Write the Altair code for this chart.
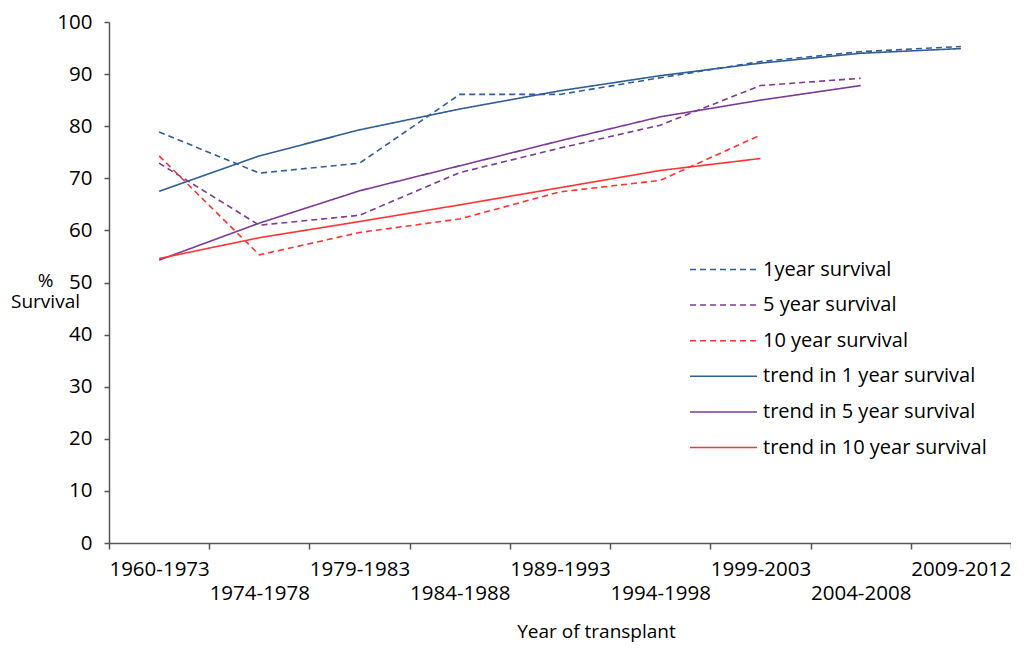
import json
import altair as alt
import pandas as pd

cats = ["1960-1973", "1974-1978", "1979-1983", "1984-1988", "1989-1993",
        "1994-1998", "1999-2003", "2004-2008", "2009-2012"]

one_year = [78.9, 71.0, 72.9, 86.1, 86.1, 89.3, 92.4, 94.3, 95.3]
five_year = [72.9, 61.0, 62.9, 71.1, 75.8, 80.2, 87.8, 89.2, None]
ten_year = [74.3, 55.3, 59.6, 62.2, 67.4, 69.6, 78.3, None, None]
trend_one = [67.5, 74.3, 79.3, 83.3, 86.8, 89.7, 92.1, 94.0, 94.9]
trend_five = [54.3, 61.4, 67.6, 72.4, 77.2, 81.8, 85.0, 87.8, None]
trend_ten = [54.6, 58.6, 61.7, 64.9, 68.2, 71.5, 73.8, None, None]

series_names = ["1year survival", "5 year survival", "10 year survival",
                "trend in 1 year survival", "trend in 5 year survival",
                "trend in 10 year survival"]
series_values = [one_year, five_year, ten_year, trend_one, trend_five, trend_ten]
series_colors = ["#2f5d98", "#7b3a98", "#ff3333", "#2f5d98", "#7b3a98", "#ff3333"]
series_dashes = [[6, 4], [6, 4], [6, 4], [1, 0], [1, 0], [1, 0]]

rows = []
for name, vals in zip(series_names, series_values):
    for i, (c, v) in enumerate(zip(cats, vals)):
        if v is not None:
            rows.append({"series": name, "idx": i, "period": c, "value": v})
df = pd.DataFrame(rows)

names_js = json.dumps(cats)
label_expr = (
    "datum.value % 1 !== 0 ? '' : "
    f"(datum.value % 2 === 1 ? ['', {names_js}[datum.value]] : {names_js}[datum.value])"
)
x_values = [i * 0.5 - 0.5 for i in range(2 * len(cats) + 1)]

FONT = "Open Sans"

legend = alt.Legend(
    title=None,
    orient="none",
    legendX=597,
    legendY=230,
    symbolType="M-2,0H2",
    symbolSize=1122,
    symbolStrokeWidth=1.5,
    labelFontSize=20,
    labelFont=FONT,
    labelColor="#000000",
    labelOffset=22,
    labelLimit=400,
    rowPadding=7.6,
)

chart = alt.Chart(df).mark_line(strokeWidth=1.6).encode(
    x=alt.X(
        "idx:Q",
        scale=alt.Scale(domain=[-0.5, len(cats) - 0.5], nice=False, zero=False),
        axis=alt.Axis(
            title="Year of transplant",
            values=x_values,
            labelExpr=label_expr,
            labelOverlap=False,
            labelFlush=False,
            labelBound=False,
            labelFontSize=20.5,
            labelFont=FONT,
            labelColor="#000000",
            labelPadding=10,
            labelLineHeight=24,
            tickSize=6,
            tickOpacity={"condition": {"test": "datum.value % 1 === 0", "value": 0}, "value": 1},
            grid=False,
            titleFontSize=19,
            titleFont=FONT,
            titleFontWeight="normal",
            titleColor="#000000",
            titlePadding=19,
            titleX=487,
            titleAlign="center",
        ),
    ),
    y=alt.Y(
        "value:Q",
        scale=alt.Scale(domain=[0, 100], nice=False),
        axis=alt.Axis(
            title=["%", "Survival"],
            titleAngle=0,
            titleAlign="center",
            titleBaseline="middle",
            titleX=-64,
            titleY=258,
            titleLineHeight=21,
            titleFontSize=19,
            titleFont=FONT,
            titleFontWeight="normal",
            titleColor="#000000",
            values=list(range(0, 101, 10)),
            labelFontSize=20.5,
            labelFont=FONT,
            labelColor="#000000",
            labelPadding=12,
            tickSize=5,
            grid=False,
        ),
    ),
    color=alt.Color(
        "series:N",
        scale=alt.Scale(domain=series_names, range=series_colors),
        legend=legend,
    ),
    strokeDash=alt.StrokeDash(
        "series:N",
        scale=alt.Scale(domain=series_names, range=series_dashes),
        legend=legend,
    ),
).properties(
    width=902,
    height=521,
    autosize=alt.AutoSizeParams(type="none"),
    padding={"left": 101, "top": 14, "right": 0, "bottom": 103},
).configure_view(
    stroke=None
).configure_axis(
    domainColor="#555555",
    domainWidth=1.5,
    tickColor="#555555",
    tickWidth=1.5,
)

chart.save("out.html", embed_options={"renderer": "svg", "actions": False})
